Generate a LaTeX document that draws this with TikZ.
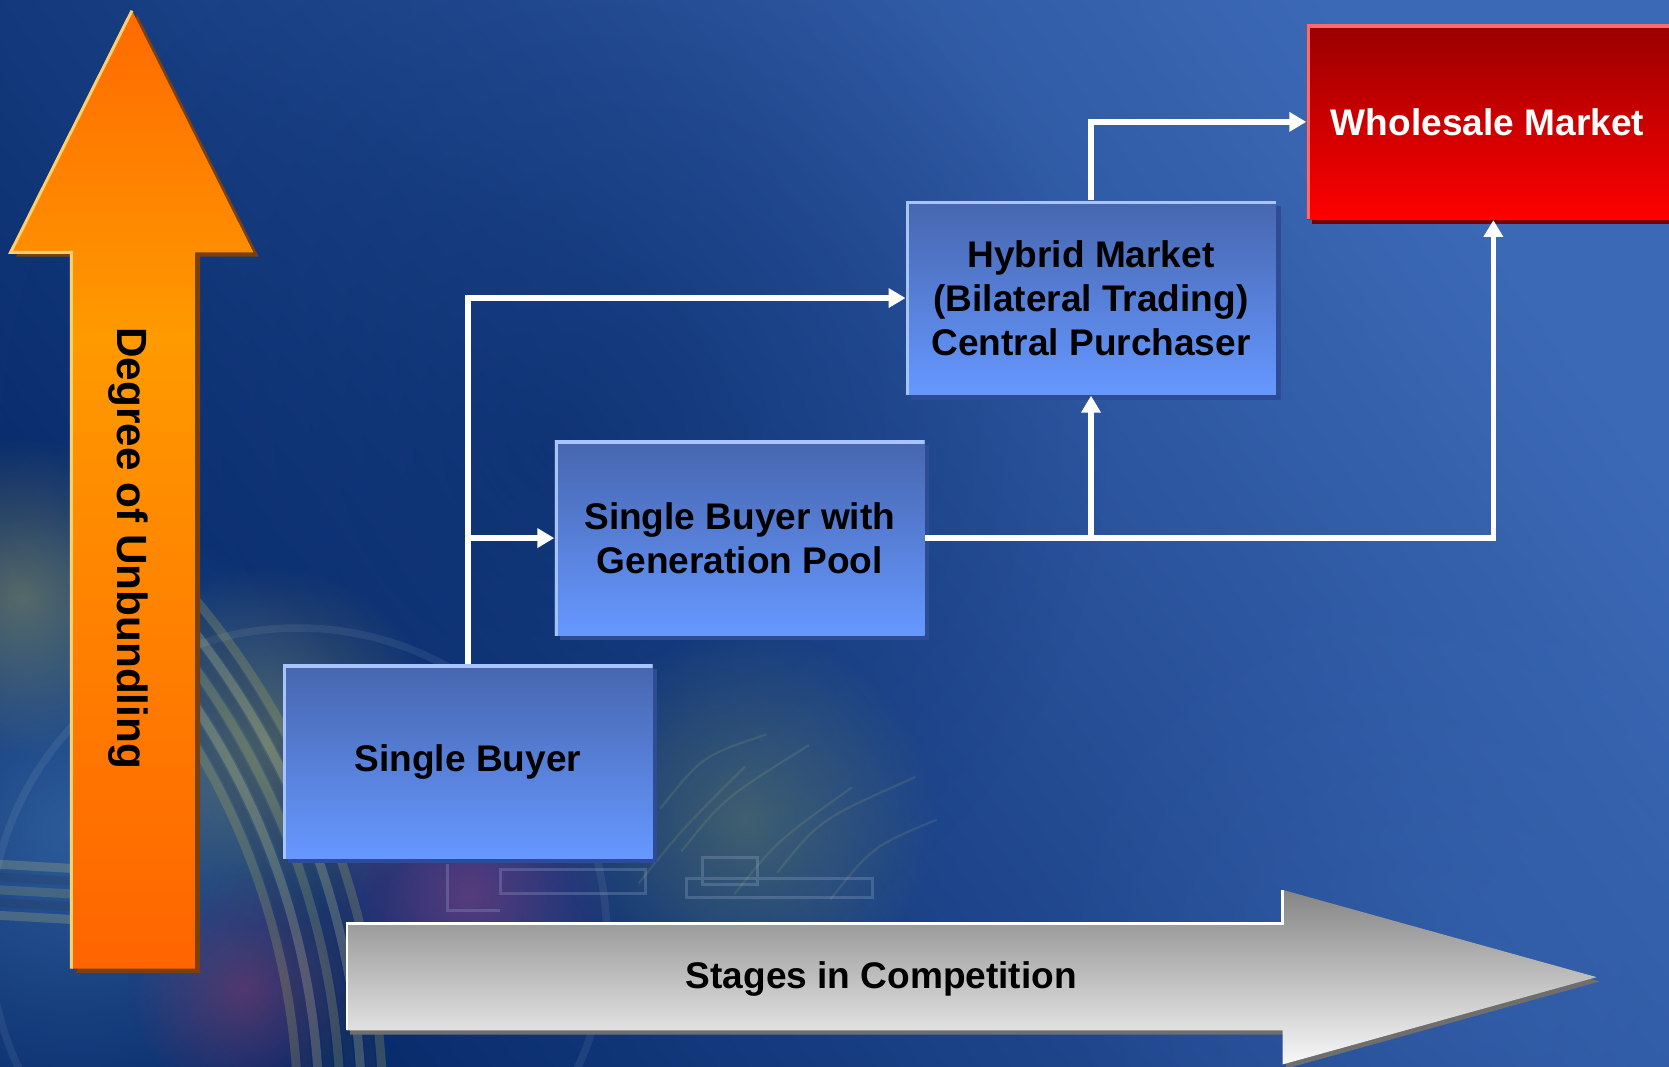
\documentclass[tikz,border=0pt]{standalone}
\usepackage{fontspec}
\setmainfont{Liberation Sans}
\usetikzlibrary{arrows.meta,shadows,fadings}
\definecolor{bgDark}{HTML}{072A6A}
\definecolor{bgLight}{HTML}{3C69B6}
\definecolor{boxTop}{HTML}{4766AE}
\definecolor{boxBot}{HTML}{6698FF}
\definecolor{boxEdge}{HTML}{A8C4FF}
\definecolor{boxShadow}{HTML}{2E4C96}
\definecolor{wmTop}{HTML}{990000}
\definecolor{wmBot}{HTML}{FF0000}
\definecolor{wmEdge}{HTML}{FF6A6A}
\definecolor{wmShadow}{HTML}{7A0000}
\definecolor{orgD}{HTML}{FF6400}
\definecolor{orgL}{HTML}{FF9A00}
\definecolor{orgT}{HTML}{FF6A00}
\definecolor{orgShadow}{HTML}{7A4010}
\definecolor{orgEdge}{HTML}{FFD070}
\definecolor{grTop}{HTML}{858585}
\definecolor{grBot}{HTML}{F8F8F8}
\definecolor{grShadow}{HTML}{6E6E6E}
\definecolor{decTeal}{HTML}{4C84C0}
\definecolor{decOlive}{HTML}{A8A85A}
\definecolor{decKhaki}{HTML}{C8C27A}
\definecolor{decDark}{HTML}{2A3A50}
\definecolor{decPink}{HTML}{B04888}
\definecolor{decRed}{HTML}{B03A60}
\definecolor{decGreen}{HTML}{A0B24C}
\definecolor{decGrid}{HTML}{A8B8D8}
\pgfdeclareverticalshading{orangesh}{100bp}{color(0bp)=(orgD); color(25bp)=(orgD); color(58bp)=(orgL); color(75bp)=(orgT); color(100bp)=(orgT)}
\tikzfading[name=softglow, inner color=transparent!0, outer color=transparent!100]
\newcommand\bxfont{\bfseries\fontsize{9.9}{11.8}\selectfont}
\newcommand\vtfont{\bfseries\fontsize{11.3}{13}\selectfont}
\tikzset{
  bluebox/.style={minimum width=3.47cm, minimum height=1.82cm, inner sep=0pt,
    top color=boxTop, bottom color=boxBot, align=center, font=\bxfont, text=black,
    drop shadow={fill=boxShadow, opacity=1, shadow xshift=0.045cm, shadow yshift=-0.045cm},
    path picture={\draw[boxEdge, line width=0.06cm] (path picture bounding box.south west) -- (path picture bounding box.north west) -- (path picture bounding box.north east);}},
  redbox/.style={minimum width=3.5cm, minimum height=1.83cm, inner sep=0pt,
    top color=wmTop, bottom color=wmBot, align=center, font=\bxfont, text=white,
    drop shadow={fill=wmShadow, opacity=1, shadow xshift=0.045cm, shadow yshift=-0.045cm},
    path picture={\draw[wmEdge, line width=0.06cm] (path picture bounding box.south west) -- (path picture bounding box.north west) -- (path picture bounding box.north east);}},
  conn/.style={draw=white, line width=1.5pt, -{Triangle[length=4.5pt,width=5pt]}},
  glow/.style={path fading=softglow}
}
\begin{document}
\begin{tikzpicture}[x=0.01cm,y=-0.01cm]
\useasboundingbox (0,0) rectangle (1568,1002);
\begin{scope}
\clip (0,0) rectangle (1568,1002);
% background
\fill[bgDark] (0,0) rectangle (1568,1002);
\shade[top color=bgLight, bottom color=bgDark, shading angle=-55] (0,0) rectangle (1568,1002);
\fill[bgDark, glow, opacity=0.55] (520,420) circle[radius=520];
\fill[bgLight, glow, opacity=0.35] (1400,900) circle[radius=420];
% decorative globe area (bottom left)
\fill[decTeal, glow, opacity=0.55] (70,780) circle[radius=300];
\fill[decOlive, glow, opacity=0.45] (20,560) circle[radius=150];
\fill[decOlive, glow, opacity=0.40] (250,700) circle[radius=170];
\fill[decPink, glow, opacity=0.45] (440,840) circle[radius=140];
\fill[decRed, glow, opacity=0.40] (230,930) circle[radius=110];
\fill[decGreen, glow, opacity=0.30] (700,770) circle[radius=180];
\draw[white, opacity=0.07, line width=2pt] (280,880) circle[radius=290];
% cables
\foreach \r/\c in {680/decOlive,690/decDark,700/decKhaki,710/decDark,720/decOlive,730/decDark,740/decKhaki,750/decDark,760/decOlive}{
  \draw[\c, opacity=0.28, line width=2.4pt] (-400,1050) ++(318:\r) arc[start angle=318, end angle=362, radius=\r];
}
\foreach \yy/\c in {812/decKhaki,824/decDark,836/decOlive,848/decDark,860/decKhaki}{
  \draw[\c, opacity=0.25, line width=2.4pt] (0,\yy) -- (70,\yy+4);
}
% circuit-like grid
\draw[decGrid, opacity=0.25, line width=0.8pt] (470,817) rectangle (606,839) (645,825) rectangle (820,843) (660,806) rectangle (712,831) (420,812) -- (420,855) -- (470,855);
\foreach \a/\b/\c/\d in {600/830/700/720, 640/800/760/700, 690/840/800/740, 730/820/860/730, 620/760/720/690, 780/845/880/770}{
  \draw[decKhaki, opacity=0.13, line width=0.6pt] (\a,\b) .. controls (\a+40,\b-50) .. (\c,\d);
}

% orange vertical arrow
\fill[orgShadow] (72,914) -- (72,241) -- (15,241) -- (129,14) -- (243,241) -- (188,241) -- (188,914) -- cycle;
\shade[shading=orangesh] (67,910) -- (67,237) -- (10,237) -- (124,10) -- (238,237) -- (183,237) -- (183,910) -- cycle;
\draw[orgEdge, line width=0.8pt] (67,910) -- (67,237) -- (10,237) -- (124,10);
\node[rotate=-90, font=\vtfont, text=black] (unb) at (121,515) {Degree of Unbundling};

% gray horizontal arrow
\fill[grShadow] (329,872) -- (1208,872) -- (1208,840) -- (1503,922) -- (1208,1004) -- (1208,972) -- (329,972) -- cycle;
\shade[top color=grTop, bottom color=grBot] (326,868) -- (1205,868) -- (1205,836) -- (1500,918) -- (1205,1000) -- (1205,968) -- (326,968) -- cycle;
\draw[white, line width=0.8pt] (326,968) -- (326,868) -- (1205,868) -- (1205,836);
\node[font=\bxfont, text=black] (stg) at (828,920) {Stages in Competition};

% boxes
\node[bluebox] (sb) at (439.5,715.5) {\raisebox{-0.04cm}{Single Buyer}};
\node[bluebox, minimum height=1.83cm] (gp) at (695,505.5) {Single Buyer with\\Generation Pool};
\node[bluebox] (hy) at (1025,280) {Hybrid Market\\(Bilateral Trading)\\Central Purchaser};
\node[redbox] (wm) at (1403,114.5) {Wholesale Market\hspace*{0.11cm}};

% connectors
\coordinate (j1) at (sb.north |- gp.west);
\coordinate (j2) at (hy.south |- gp.east);
\draw[conn] (sb.north) |- (hy.west);
\draw[conn] (j1) -- (gp.west);
\draw[conn] (gp.east) -| (wm.south);
\draw[conn] (j2) -- (hy.south);
\draw[conn] (hy.north) |- (wm.west);
\end{scope}
\end{tikzpicture}
\end{document}
